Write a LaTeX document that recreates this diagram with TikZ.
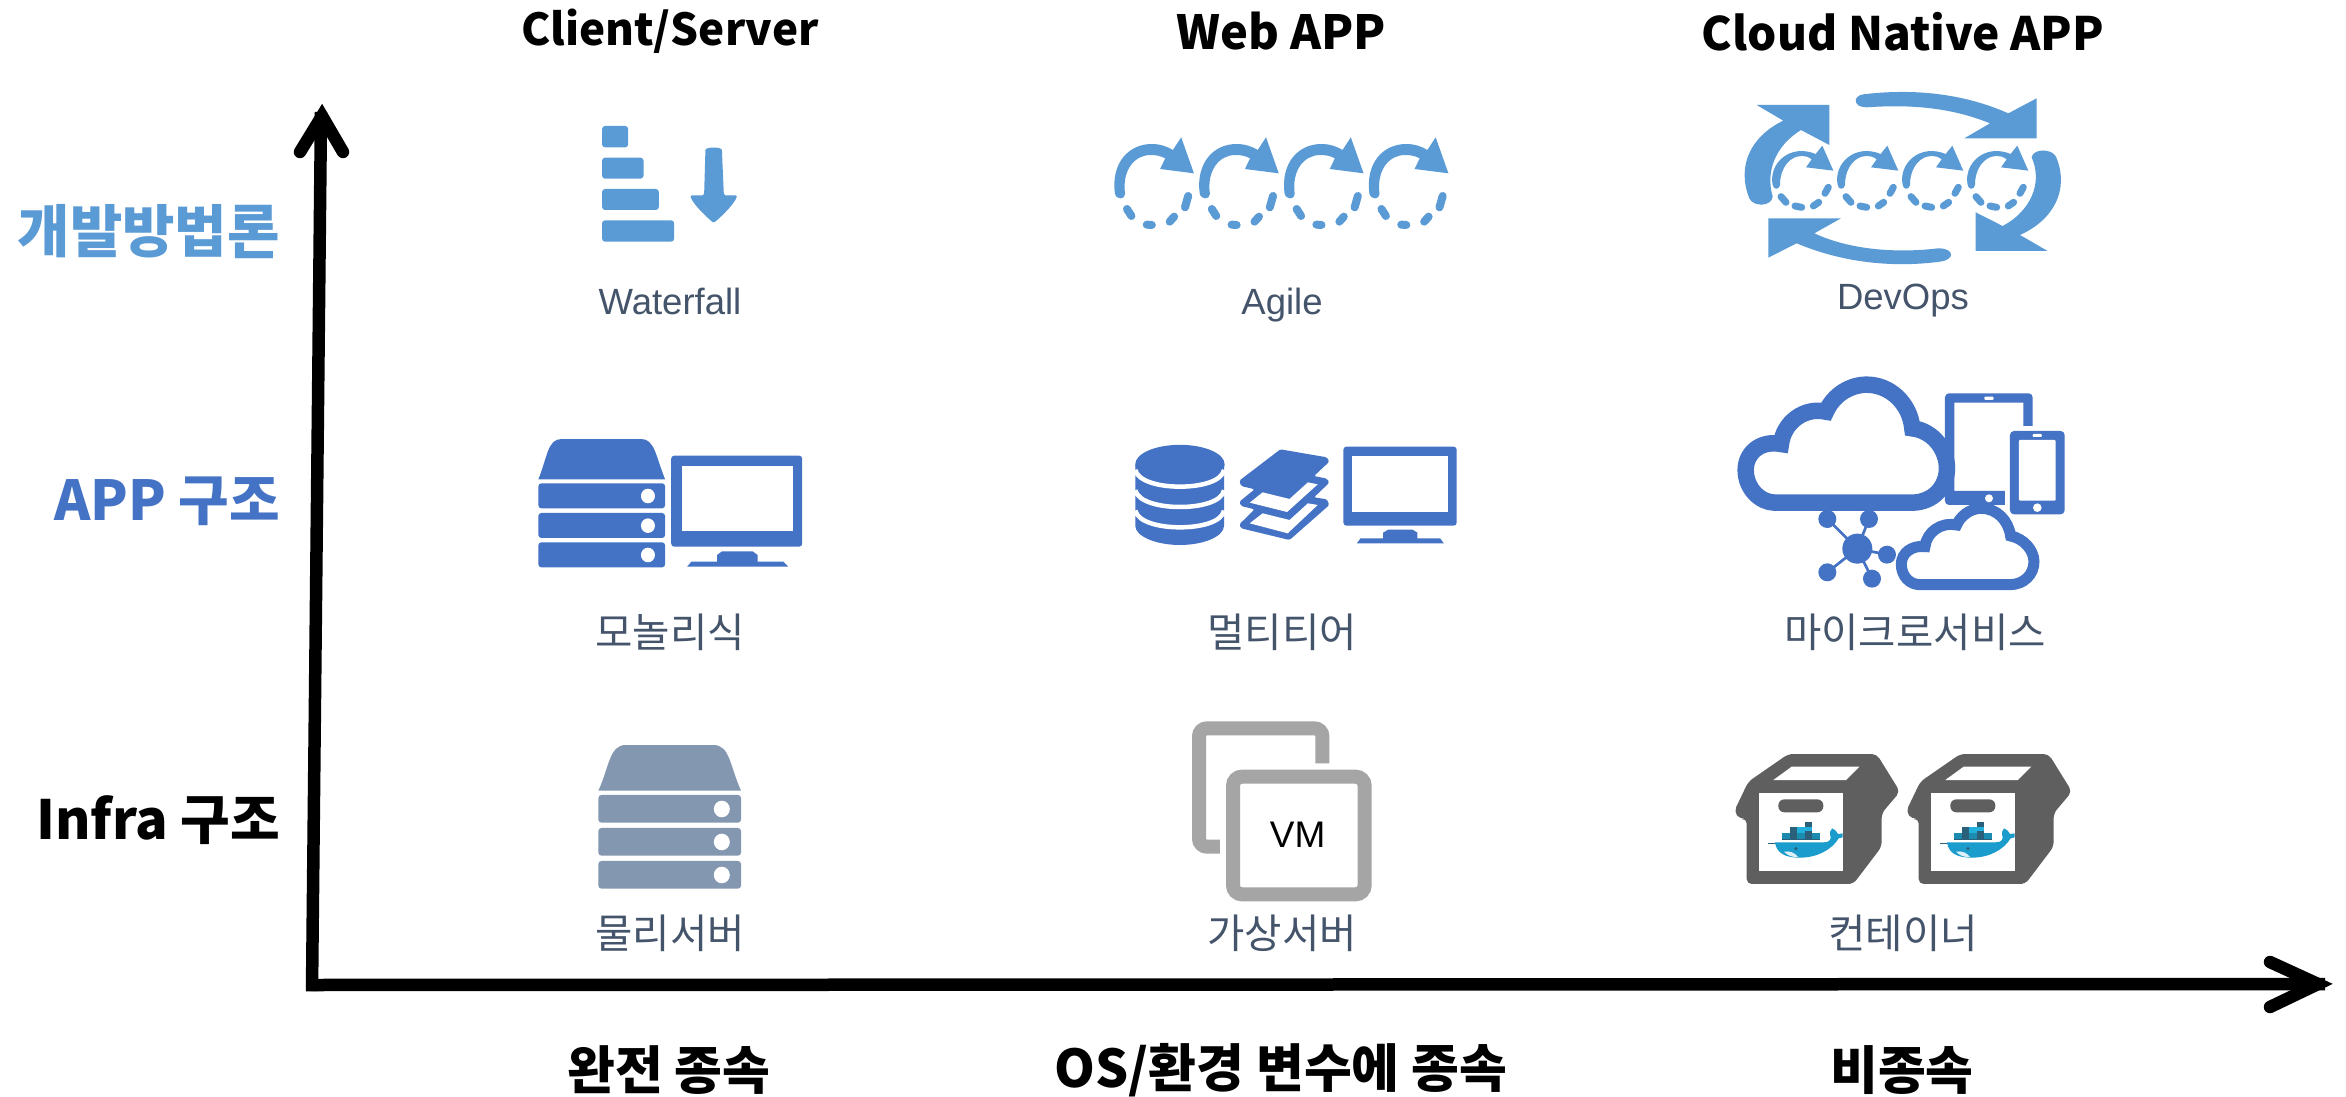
\documentclass[tikz,border=0pt]{standalone}
\usepackage{fontspec}
\setmainfont{Liberation Sans}
\newfontfamily\kr{Noto Sans CJK KR}
\definecolor{skyb}{HTML}{5B9BD5}
\definecolor{appb}{HTML}{4472C4}
\definecolor{physb}{HTML}{8497B0}
\definecolor{vmgray}{HTML}{A5A5A5}
\definecolor{boxgray}{HTML}{5F5F5F}
\definecolor{labelc}{HTML}{44546A}
\definecolor{whale}{HTML}{1A9CCC}
\definecolor{whalel}{HTML}{22B1DC}
\definecolor{whaled}{HTML}{2A6079}
\definecolor{whalem}{HTML}{1B8CB0}
\tikzset{
 heading/.style={font=\kr\bfseries\fontsize{#1}{56}\selectfont,text=black,inner sep=0pt},
 rowlabel/.style={font=\kr\bfseries\fontsize{#1}{60}\selectfont,anchor=east,inner sep=0pt},
 iconlabel/.style={font=\fontsize{36.5}{42}\selectfont,text=labelc,inner sep=0pt},
 korlabel/.style={font=\kr\fontsize{40.6}{46}\selectfont,text=labelc,inner sep=0pt},
 axisline/.style={line width=12.5pt,line cap=butt},
 axistip/.style={line width=12.5pt,line cap=round,line join=miter},
 zooma/.style={shift={(500,90)},x=0.6378pt,y=-0.3333pt},
 zoomb/.style={shift={(1700,80)},x=0.3333pt,y=-0.3333pt},
 zoomc/.style={shift={(1700,360)},x=0.3333pt,y=-0.3333pt},
 zoomd/.style={shift={(520,420)},x=0.6122pt,y=-0.3333pt},
 zoome/.style={shift={(560,710)},x=0.5485pt,y=-0.3333pt},
 zoomf/.style={shift={(1720,730)},x=0.3333pt,y=-0.3333pt},
 zoomg/.style={shift={(1760,810)},x=0.3333pt,y=-0.3333pt},
}
\newcommand{\agileicon}{%
 \fill[skyb] (964,310) .. controls (958,220) and (985,162) .. (1022,162) .. controls (1035,162) and (1047,170) .. (1055,180) -- (1068,142) -- (1088,250) -- (1035,237) -- (1043,205) .. controls (1035,197) and (1028,195) .. (1020,195) .. controls (995,195) and (975,240) .. (980,312) .. controls (980,330) and (966,330) .. (964,310) -- cycle;
 \draw[skyb,line width=8pt,line cap=round] (983,357) -- (990,378) (1014,404) -- (1022,405) (1050,395) -- (1057,380) (1074,352) -- (1079,318);
}
\newcommand{\loopicon}{%
 \fill[skyb] (318,262) -- (335,238) .. controls (300,210) and (240,240) .. (240,315) .. controls (238,330) and (220,330) .. (218,315) .. controls (205,250) and (270,190) .. (347,222) -- (367,197) -- (400,272) -- cycle;
 \draw[skyb,line width=7pt,line cap=round] (243,350) -- (258,367) (285,378) -- (305,382) (340,378) -- (356,367) (375,340) -- (385,322);
}
\newcommand{\cloudbig}{%
 \draw[appb,fill=white,line width=16.5pt,line join=miter] (225,428) -- (635,428) .. controls (700,428) and (741,380) .. (741,325) .. controls (741,270) and (700,212) .. (637,205) .. controls (630,130) and (570,74) .. (500,74) .. controls (450,74) and (400,105) .. (378,155) .. controls (310,140) and (250,190) .. (243,252) .. controls (180,240) and (137,280) .. (137,330) .. controls (137,385) and (180,428) .. (225,428) -- cycle;
}
\newcommand{\cloudsmall}{%
 \draw[appb,fill=white,line width=11pt,line join=miter] (660,674) -- (930,674) .. controls (970,674) and (1002,645) .. (1002,605) .. controls (1002,570) and (970,535) .. (932,528) .. controls (925,480) and (890,445) .. (843,445) .. controls (810,445) and (780,470) .. (770,495) .. controls (725,485) and (680,515) .. (675,560) .. controls (635,555) and (604,580) .. (604,612) .. controls (604,650) and (630,674) .. (660,674) -- cycle;
}
\newcommand{\dockerbox}{%
 \fill[boxgray,rounded corners=5pt] (205,72) -- (470,72) -- (540,185) -- (485,250) -- (485,350) -- (400,462) -- (80,462) -- (80,265) -- (60,268) -- (42,245) -- (85,155) -- cycle;
 \fill[white] (215,110) -- (418,110) -- (378,150) -- (160,150) -- cycle;
 \fill[white] (118,188) rectangle (368,423);
 \fill[boxgray,rounded corners=6pt] (175,208) rectangle (310,247);
}
\newcommand{\whaleicon}{%
 \draw[whaled,line width=0.8pt] (25,100) -- (50,100);
 \fill[whale] (45,97) -- (190,97) .. controls (205,97) and (212,92) .. (212,82) .. controls (208,70) and (210,60) .. (216,55) .. controls (226,60) and (232,66) .. (234,72) -- (248,70) -- (248,82) -- (236,85) .. controls (215,120) and (170,143) .. (120,143) .. controls (75,143) and (50,130) .. (45,97) -- cycle;
 \fill[white!85!whale] (72,125) .. controls (90,122) and (105,128) .. (114,141) .. controls (95,142) and (82,136) .. (72,125) -- cycle;
 \fill[whaled] (108,116) circle[radius=1.8pt];
 \fill[whalem] (67,70) rectangle (180,88);
 \fill[whaled] (89,52) rectangle (112,88);
 \fill[whalem] (112,70) rectangle (135,88);
 \fill[whalel] (112,52) rectangle (135,70);
 \fill[whaled] (135,36) rectangle (157,88);
 \fill[whalel] (135,52) rectangle (157,62);
 \draw[whaled,line width=0.6pt] (67,88) -- (180,88);
}
\begin{document}
\begin{tikzpicture}[x=1pt,y=-1pt]
\useasboundingbox (0,0) rectangle (2346,1097);
\fill[white] (0,0) rectangle (2346,1097);
% axes
\coordinate (origin) at (306,985);
\coordinate (ybase) at (312,991);
\coordinate (ytop) at (321,112);
\coordinate (yvertex) at (322,116);
\coordinate (yl) at (300,152);
\coordinate (yr) at (343,152);
\coordinate (xend) at (2325,984);
\coordinate (xvertex) at (2318,984);
\coordinate (xu) at (2270,962);
\coordinate (xd) at (2270,1007);
\draw[axisline] (ybase) -- (ytop);
\draw[axisline] (origin) -- (xend);
\draw[axistip] (yl) -- (yvertex) -- (yr);
\draw[axistip] (xu) -- (xvertex) -- (xd);
% headings
\node[heading=44] (h1) at (670,31) {Client/Server};
\node[heading=47] (h2) at (1281,31) {Web APP};
\node[heading=46] (h3) at (1903,32) {Cloud Native APP};
\node[heading=52] (b1) at (669,1070) {완전 종속};
\node[heading=52] (b2) at (1281,1070) {OS/환경 변수에 종속};
\node[heading=52] (b3) at (1902,1070) {비종속};
\node[rowlabel=57,text=skyb] (r1) at (280,232) {개발방법론};
\node[rowlabel=55,text=appb] (r2) at (280,501) {APP 구조};
\node[rowlabel=54,text=black] (r3) at (280,820) {Infra 구조};
% labels
\node[iconlabel] (l1) at (670,301) {Waterfall};
\node[iconlabel] (l2) at (1282,305) {Agile};
\node[iconlabel] (l3) at (1903,301) {DevOps};
\node[korlabel] (l4) at (670,632) {모놀리식};
\node[korlabel] (l5) at (1282,632) {멀티티어};
\node[korlabel] (l6) at (1915,632) {마이크로서비스};
\node[korlabel] (l7) at (670,933) {물리서버};
\node[korlabel] (l8) at (1282,933) {가상서버};
\node[korlabel] (l9) at (1903,933) {컨테이너};
% waterfall + agile
\begin{scope}[zooma]
 \fill[skyb,rounded corners=3pt] (160,108) rectangle (201,172);
 \fill[skyb,rounded corners=3pt] (160,203) rectangle (225,266);
 \fill[skyb,rounded corners=3pt] (160,297) rectangle (249,360);
 \fill[skyb,rounded corners=3pt] (160,391) rectangle (273,455);
 \fill[skyb,rounded corners=1.5pt] (322,185) .. controls (322,170) and (348,170) .. (348,185) -- (351,316) -- (372,316) .. controls (368,340) and (350,375) .. (335,399) .. controls (320,375) and (302,340) .. (298,316) -- (320,316) -- cycle;
 \foreach \i in {0,1,2,3}{\begin{scope}[shift={(\i*133,0)}]\agileicon\end{scope}}
\end{scope}
% devops
\begin{scope}[zoomb]
 \fill[skyb] (490,43) .. controls (640,25) and (790,40) .. (925,100) -- (1010,55) -- (1010,175) -- (793,175) -- (870,130) .. controls (760,85) and (640,72) .. (500,82) .. controls (458,82) and (458,47) .. (490,43) -- cycle;
 \fill[skyb] (170,75) -- (388,75) -- (388,195) -- (303,150) .. controls (230,195) and (195,270) .. (218,350) .. controls (215,380) and (160,382) .. (148,355) .. controls (110,260) and (150,170) .. (250,122) -- cycle;
 \fill[skyb] (205,415) -- (423,415) -- (343,460) .. controls (450,510) and (590,520) .. (715,505) .. controls (765,505) and (765,540) .. (720,545) .. controls (570,565) and (420,545) .. (290,490) -- (205,533) -- cycle;
 \fill[skyb] (1043,513) -- (827,513) -- (827,397) -- (908,438) .. controls (990,395) and (1030,310) .. (995,232) .. controls (1000,205) and (1055,205) .. (1068,230) .. controls (1110,330) and (1060,420) .. (960,465) -- cycle;
 \foreach \i in {0,1,2,3}{\begin{scope}[shift={(\i*195,0)}]\loopicon\end{scope}}
\end{scope}
% monolith + multitier
\begin{scope}[zoomd]
 \fill[appb] (30,178) .. controls (45,110) and (45,57) .. (68,57) -- (198,57) .. controls (220,57) and (222,110) .. (237,178) -- cycle;
 \foreach \y in {190,279,367}{
  \fill[appb,rounded corners=3pt] (30,\y) rectangle (237,\y+75);
  \fill[white] (209,\y+38) ellipse[x radius=7pt,y radius=7.3pt];
 }
 \fill[appb,rounded corners=3pt] (247,107) rectangle (461,380);
 \fill[white] (264,138) rectangle (446,334);
 \fill[appb] (273,440) -- (280,425) -- (322,425) -- (322,405) -- (330,394) -- (380,394) -- (388,405) -- (388,425) -- (430,425) -- (438,440) -- cycle;
 % database
 \fill[appb] (1005,133) -- (1005,317) .. controls (1005,350) and (1040,375) .. (1078,375) .. controls (1116,375) and (1150,350) .. (1150,317) -- (1150,133) -- cycle;
 \fill[appb] (1078,133) ellipse[x radius=44.7pt,y radius=19.5pt];
 \foreach \d in {0,61,122}{
  \draw[white,line width=4.5pt] (1005,150+\d) .. controls (1010,185+\d) and (1045,200+\d) .. (1078,200+\d) .. controls (1111,200+\d) and (1146,185+\d) .. (1150,150+\d);
 }
 % layers
 \fill[appb,rounded corners=1.5pt] (1242,88) -- (1318,112) -- (1322,125) -- (1297,168) -- (1318,176) -- (1322,188) -- (1297,232) -- (1318,238) -- (1322,255) -- (1257,360) -- (1178,325) -- (1175,313) -- (1200,268) -- (1178,258) -- (1175,245) -- (1200,208) -- (1178,198) -- (1175,182) -- cycle;
 \fill[white] (1213,217) -- (1257,237) -- (1287,187) -- (1303,193) -- (1253,276) -- (1192,248) -- cycle;
 \fill[white] (1213,280) -- (1257,300) -- (1287,250) -- (1303,255) -- (1254,340) -- (1192,310) -- cycle;
 % monitor
 \fill[appb,rounded corners=3pt] (1345,80) rectangle (1530,317);
 \fill[white] (1359,107) rectangle (1516,277);
 \fill[appb] (1367,370) -- (1373,355) -- (1410,355) -- (1410,338) -- (1418,329) -- (1458,329) -- (1466,338) -- (1466,355) -- (1503,355) -- (1509,370) -- cycle;
\end{scope}
% microservices
\begin{scope}[zoomc]
 \cloudbig
 \fill[appb,rounded corners=4pt] (735,100) -- (998,100) [sharp corners] -- (998,198) -- (970,198) -- (970,128) -- (763,128) -- (763,393) -- (915,393) -- (915,435) [rounded corners=4pt] -- (735,435) -- cycle;
 \fill[white] (867,415) circle[radius=4pt];
 \fill[white,rounded corners=1pt] (853,110) rectangle (881,120);
 \fill[appb,rounded corners=4pt] (930,213) rectangle (1094,463);
 \fill[white,rounded corners=1pt] (957,240) rectangle (1067,422);
 \fill[white] (1012,443) circle[radius=4.3pt];
 \fill[white,rounded corners=1pt] (998,222) rectangle (1026,231);
 \cloudsmall
 \draw[appb,line width=2.7pt] (382,477) -- (472,566) (507,477) -- (472,566) (561,584) -- (472,566) (382,637) -- (472,566) (516,656) -- (472,566);
 \fill[appb] (472,566) circle[radius=15pt];
 \foreach \p in {(382,477),(507,477),(561,584),(382,637),(516,656)}{\fill[appb] \p circle[radius=9pt];}
\end{scope}
% physical server + VM
\begin{scope}[zoome]
 \fill[physb] (70,242) .. controls (90,170) and (90,105) .. (120,105) -- (280,105) .. controls (310,105) and (310,170) .. (330,242) -- cycle;
 \foreach \y in {255,354,453}{
  \fill[physb,rounded corners=3pt] (70,\y) rectangle (330,\y+83);
  \fill[white] (295,\y+42) ellipse[x radius=8pt,y radius=8.3pt];
 }
 \draw[vmgray,line width=14pt,rounded corners=8pt] (1390,160) -- (1390,55) -- (1165,55) -- (1165,410) -- (1203,410);
 \draw[vmgray,fill=white,line width=14pt,rounded corners=9pt] (1227,200) rectangle (1467,553);
 \node[font=\fontsize{37}{42}\selectfont,inner sep=0pt] (vm) at (1345,375) {VM};
\end{scope}
% docker boxes
\begin{scope}[zoomf]
 \foreach \i in {0,516}{\begin{scope}[shift={(\i,0)}]\dockerbox\end{scope}}
\end{scope}
\begin{scope}[zoomg]
 \foreach \i in {0,516}{\begin{scope}[shift={(\i,0)}]\whaleicon\end{scope}}
\end{scope}
\end{tikzpicture}
\end{document}
